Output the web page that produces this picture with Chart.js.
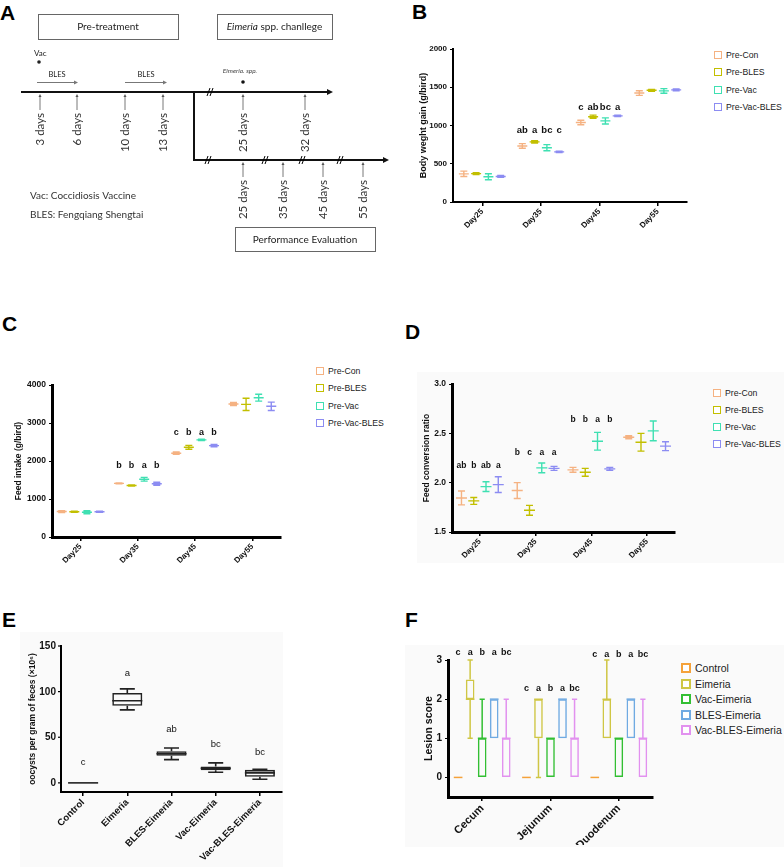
<!DOCTYPE html>
<html>
<head>
<meta charset="utf-8">
<script src="https://cdn.jsdelivr.net/npm/chart.js@4.4.0/dist/chart.umd.min.js"></script>
<style>
  body { margin: 0; background: #fff; width: 784px; height: 867px; position: relative; overflow: hidden; font-family: "Liberation Sans", Arial, sans-serif; }
  canvas { position: absolute; }
  .tag { position: absolute; font: bold 21px "Liberation Sans", Arial, sans-serif; line-height: 1; }
  .bg { position: absolute; background: #fafafa; }
  .legend { position: absolute; color: #222; }
  .legend .row { display: flex; align-items: center; }
  .legend .sq { box-sizing: border-box; margin-right: 4px; background: #fff; border-style: solid; }
  .ytick { position: absolute; font: bold 10px "Liberation Sans", Arial, sans-serif; color: #111; text-align: right; width: 30px; line-height: 12px; z-index: 5; }
</style>
</head>
<body>
<div class="bg" style="left:417px;top:372px;width:367px;height:191px"></div>
<div class="bg" style="left:20px;top:632px;width:263px;height:235px"></div>
<div class="bg" style="left:405px;top:645px;width:379px;height:202px"></div>

<div class="tag" style="left:0px;top:2px">A</div>
<div class="tag" style="left:412px;top:1px">B</div>
<div class="tag" style="left:2px;top:313px">C</div>
<div class="tag" style="left:405px;top:321px">D</div>
<div class="tag" style="left:2px;top:609px">E</div>
<div class="tag" style="left:405px;top:609px">F</div>

<canvas id="panelA" width="392" height="258" style="left:0;top:0"></canvas>
<canvas id="chartB" width="280" height="195" style="left:412px;top:40px"></canvas>
<canvas id="chartC" width="276" height="194" style="left:10px;top:376px"></canvas>
<canvas id="chartD" width="264" height="190" style="left:416px;top:375px"></canvas>
<canvas id="chartE" width="265" height="230" style="left:22px;top:637px"></canvas>
<canvas id="chartF" width="240" height="205" style="left:418px;top:640px"></canvas>

<script>
// ---- datos ----
const days = ['Day25', 'Day35', 'Day45', 'Day55'];
const preGroups = ['Pre-Con', 'Pre-BLES', 'Pre-Vac', 'Pre-Vac-BLES'];
const preColors = ['#f5b282', '#c2bf00', '#3fe0b2', '#8c8cf2'];

// B: body weight gain, mean and error per group (Day25..Day55)
const bwgMean = [[368, 733, 1039, 1424], [371, 786, 1115, 1460], [330, 710, 1060, 1452], [334, 655, 1126, 1466]];
const bwgErr = [[35, 30, 30, 30], [12, 15, 20, 12], [40, 40, 40, 30], [12, 8, 8, 12]];
const bwgLetters = [[], ['ab', 'a', 'bc', 'c'], ['c', 'ab', 'bc', 'a'], []];
const bwgLetterY = [null, 930, 1240, null];

// C: feed intake
const fiMean = [[670, 1410, 2205, 3500], [665, 1355, 2360, 3490], [650, 1520, 2555, 3665], [665, 1400, 2405, 3440]];
const fiErr = [[25, 10, 30, 40], [15, 15, 50, 160], [40, 50, 20, 90], [15, 40, 30, 110]];
const fiLetters = [[], ['b', 'b', 'a', 'b'], ['c', 'b', 'a', 'b'], []];
const fiLetterY = [null, 1870, 2760, null];

// D: feed conversion ratio
const fcrMean = [[1.845, 1.92, 2.13, 2.46], [1.815, 1.72, 2.105, 2.41], [1.96, 2.15, 2.42, 2.525], [1.98, 2.145, 2.14, 2.37]];
const fcrErr = [[0.07, 0.08, 0.025, 0.015], [0.035, 0.05, 0.04, 0.09], [0.05, 0.05, 0.09, 0.1], [0.08, 0.02, 0.015, 0.045]];
const fcrLetters = [['ab', 'b', 'ab', 'a'], ['b', 'c', 'a', 'a'], ['b', 'b', 'a', 'b'], []];
const fcrLetterY = [2.17, 2.30, 2.64, null];

// E: oocysts (box plot)
const oocystGroups = ['Control', 'Eimeria', 'BLES-Eimeria', 'Vac-Eimeria', 'Vac-BLES-Eimeria'];
const oocystMin = [0, 80, 25.5, 11.7, 4];
const oocystQ1 = [0, 84.5, 29.6, 13.9, 6.6];
const oocystMed = [0, 90, 32, 16, 11];
const oocystQ3 = [0, 98.5, 34.7, 17.9, 14.3];
const oocystMax = [0, 103, 38.3, 21.9, 15];
const oocystLetters = ['c', 'a', 'ab', 'bc', 'bc'];
const oocystLetterY = [23, 120, 59, 42, 33];
const oocystTicks = [0, 50, 100, 150];

// F: lesion score (box plot), per group across Cecum, Jejunum, Duodenum
const sites = ['Cecum', 'Jejunum', 'Duodenum'];
const lesionGroups = ['Control', 'Eimeria', 'Vac-Eimeria', 'BLES-Eimeria', 'Vac-BLES-Eimeria'];
const lesionColors = ['#f5a23a', '#cfc644', '#33bf33', '#6faae2', '#e291ef'];
const lesionMin = [[0, 0, 0], [1, 0, 1], [0, 0, 0], [1, 1, 1], [0, 0, 0]];
const lesionQ1 = [[0, 0, 0], [2, 1, 1], [0, 0, 0], [1, 1, 1], [0, 0, 0]];
const lesionMed = [[0, 0, 0], [2, 2, 2], [1, 1, 1], [2, 2, 2], [1, 1, 1]];
const lesionQ3 = [[0, 0, 0], [2.5, 2, 2], [1, 1, 1], [2, 2, 2], [1, 1, 1]];
const lesionMax = [[0, 0, 0], [3, 2, 3], [2, 1, 1], [2, 2, 2], [2, 2, 2]];
const lesionLetters = ['c', 'a', 'b', 'a', 'bc'];
const lesionLetterY = [3.18, 2.26, 3.15];

const FONT = '"Liberation Sans", Arial, sans-serif';

// ---- plugins ----
const errorBars = {
  id: 'errorBars',
  afterDatasetsDraw(chart, args, opts) {
    const ctx = chart.ctx, y = chart.scales.y;
    chart.data.datasets.forEach((ds, i) => {
      chart.getDatasetMeta(i).data.forEach((bar, j) => {
        const m = ds.mean[j], e = ds.err[j];
        const yt = y.getPixelForValue(m + e), yb = y.getPixelForValue(m - e), ym = y.getPixelForValue(m);
        const x = bar.x;
        ctx.save();
        ctx.strokeStyle = ds.borderColor;
        ctx.lineWidth = 1.4;
        ctx.beginPath();
        ctx.moveTo(x, yt); ctx.lineTo(x, yb);
        ctx.moveTo(x - opts.cap, yt); ctx.lineTo(x + opts.cap, yt);
        ctx.moveTo(x - opts.cap, yb); ctx.lineTo(x + opts.cap, yb);
        ctx.moveTo(x - opts.mean, ym); ctx.lineTo(x + opts.mean, ym);
        ctx.stroke();
        ctx.restore();
      });
    });
  }
};

const whiskers = {
  id: 'whiskers',
  afterDatasetsDraw(chart, args, opts) {
    const ctx = chart.ctx, y = chart.scales.y;
    chart.data.datasets.forEach((ds, i) => {
      chart.getDatasetMeta(i).data.forEach((bar, j) => {
        const x = bar.x, w = bar.width;
        const pMin = y.getPixelForValue(ds.lo[j]), pMax = y.getPixelForValue(ds.hi[j]);
        const pQ1 = y.getPixelForValue(ds.data[j][0]), pQ3 = y.getPixelForValue(ds.data[j][1]);
        const pMed = y.getPixelForValue(ds.med[j]);
        ctx.save();
        ctx.strokeStyle = ds.borderColor;
        ctx.lineWidth = opts.width;
        ctx.beginPath();
        ctx.moveTo(x - w / 2, pMed); ctx.lineTo(x + w / 2, pMed);
        if (pMax < pQ3) {
          ctx.moveTo(x, pQ3); ctx.lineTo(x, pMax);
          ctx.moveTo(x - w * opts.cap, pMax); ctx.lineTo(x + w * opts.cap, pMax);
        }
        if (pMin > pQ1) {
          ctx.moveTo(x, pQ1); ctx.lineTo(x, pMin);
          ctx.moveTo(x - w * opts.cap, pMin); ctx.lineTo(x + w * opts.cap, pMin);
        }
        ctx.stroke();
        ctx.restore();
      });
    });
  }
};

const letters = {
  id: 'letters',
  afterDatasetsDraw(chart, args, opts) {
    const ctx = chart.ctx, y = chart.scales.y;
    ctx.save();
    ctx.font = opts.font;
    ctx.fillStyle = '#111';
    ctx.textAlign = 'center';
    ctx.textBaseline = 'middle';
    chart.data.datasets.forEach((ds, i) => {
      chart.getDatasetMeta(i).data.forEach((bar, j) => {
        const txt = opts.text(i, j);
        const ly = opts.y[j];
        if (txt && ly != null) ctx.fillText(txt, bar.x, y.getPixelForValue(ly));
      });
    });
    ctx.restore();
  }
};

// tick marks for panel E (labels are placed as html from the same scale)
const yTickMarks = {
  id: 'yTickMarks',
  afterDraw(chart, args, opts) {
    const ctx = chart.ctx, y = chart.scales.y;
    ctx.save();
    ctx.strokeStyle = '#000';
    ctx.lineWidth = 1.2;
    oocystTicks.forEach(v => {
      const py = y.getPixelForValue(v);
      ctx.beginPath(); ctx.moveTo(y.right - 3, py); ctx.lineTo(y.right, py); ctx.stroke();
    });
    ctx.restore();
  }
};

// ---- common options ----
function axesOptions(c) {
  return {
    responsive: false,
    animation: false,
    events: [],
    layout: { padding: { top: c.padTop, right: 5 } },
    plugins: {
      legend: { display: false },
      tooltip: { enabled: false },
      errorBars: c.errorBars || {},
      whiskers: c.whiskers || {},
      letters: c.letters
    },
    scales: {
      x: {
        grid: { display: true, drawOnChartArea: false, offset: false, tickLength: 4, color: '#000', lineWidth: 1.5 },
        border: { color: '#000', width: c.axisWidth },
        ticks: { color: '#111', autoSkip: false, minRotation: 45, maxRotation: 45, padding: 1, font: { family: FONT, size: c.xFont, weight: 'bold' } },
        afterFit: axis => { axis.height = c.xHeight; }
      },
      y: {
        min: c.min, max: c.max,
        grid: { display: c.yGrid !== false, drawOnChartArea: false, tickLength: 3, color: '#000' },
        border: { color: '#000', width: c.axisWidth },
        ticks: {
          display: c.yTicks !== false,
          color: '#111', autoSkip: false, stepSize: c.step, includeBounds: c.bounds !== false,
          font: { family: FONT, size: c.yFont, weight: 'bold' }, callback: c.fmt
        },
        title: { display: true, text: c.title, color: '#111', padding: { top: c.titlePad, bottom: 0 }, font: { family: FONT, size: c.titleFont, weight: 'bold' } },
        afterFit: axis => { axis.width = c.yWidth; }
      }
    }
  };
}

function meanChart(id, means, errs, cat, c) {
  return new Chart(document.getElementById(id), {
    type: 'bar',
    data: {
      labels: days,
      datasets: preGroups.map((g, i) => ({
        label: g,
        data: means[i].map((m, j) => [m - errs[i][j], m + errs[i][j]]),
        mean: means[i],
        err: errs[i],
        backgroundColor: 'rgba(0,0,0,0)',
        borderColor: preColors[i],
        borderWidth: 0,
        categoryPercentage: cat,
        barPercentage: 1
      }))
    },
    options: axesOptions(c),
    plugins: [errorBars, letters]
  });
}

const plainNum = v => String(v);

meanChart('chartB', bwgMean, bwgErr, 0.84, {
  padTop: 9, xHeight: 33, yWidth: 41, axisWidth: 2, xFont: 8, yFont: 8,
  min: 0, max: 2000, step: 500, fmt: plainNum,
  title: 'Body weght gain (g/bird)', titleFont: 9, titlePad: 6,
  errorBars: { cap: 3.5, mean: 5 },
  letters: { font: 'bold 9.5px ' + FONT, y: bwgLetterY, text: (i, j) => bwgLetters[j][i] }
});

meanChart('chartC', fiMean, fiErr, 0.88, {
  padTop: 9, xHeight: 33, yWidth: 42, axisWidth: 3, xFont: 8, yFont: 8.5,
  min: 0, max: 4000, step: 1000, fmt: plainNum,
  title: 'Feed intake (g/bird)', titleFont: 8.5, titlePad: 4,
  errorBars: { cap: 3.5, mean: 5 },
  letters: { font: 'bold 9px ' + FONT, y: fiLetterY, text: (i, j) => fiLetters[j][i] }
});

meanChart('chartD', fcrMean, fcrErr, 0.88, {
  padTop: 9, xHeight: 33, yWidth: 36, axisWidth: 3, xFont: 8, yFont: 8.5,
  min: 1.5, max: 3.0, step: 0.5, fmt: v => v.toFixed(1),
  title: 'Feed conversion ratio', titleFont: 8.5, titlePad: 5.5,
  errorBars: { cap: 3.5, mean: 5.5 },
  letters: { font: 'bold 8.5px ' + FONT, y: fcrLetterY, text: (i, j) => fcrLetters[j][i] }
});

const chartE = new Chart(document.getElementById('chartE'), {
  type: 'bar',
  data: {
    labels: oocystGroups,
    datasets: [{
      label: 'oocysts',
      data: oocystQ1.map((q, j) => [q, oocystQ3[j]]),
      lo: oocystMin, hi: oocystMax, med: oocystMed,
      backgroundColor: 'rgba(255,255,255,0)',
      borderColor: '#222',
      borderWidth: 1.6,
      borderSkipped: false,
      categoryPercentage: 1,
      barPercentage: 0.68
    }]
  },
  options: axesOptions({
    padTop: 9, xHeight: 75, yWidth: 39, axisWidth: 2, xFont: 9.5, yFont: 10,
    min: -10, max: 150, step: 50, bounds: false, yTicks: false, yGrid: false,
    title: 'oocysts per gram of feces (×10⁶)', titleFont: 8.5, titlePad: 5.5,
    whiskers: { width: 1.6, cap: 0.25 },
    letters: { font: '9.5px ' + FONT, y: oocystLetterY, text: (i, j) => oocystLetters[j] }
  }),
  plugins: [whiskers, letters, yTickMarks]
});

// E y labels as html, positioned from the chart's own y scale
(function () {
  const cv = document.getElementById('chartE');
  const y = chartE.scales.y;
  oocystTicks.forEach(v => {
    const d = document.createElement('div');
    d.className = 'ytick';
    d.textContent = String(v);
    d.style.left = (cv.offsetLeft + y.right - 5 - 30) + 'px';
    d.style.top = (cv.offsetTop + y.getPixelForValue(v) - 6) + 'px';
    document.body.appendChild(d);
  });
})();

new Chart(document.getElementById('chartF'), {
  type: 'bar',
  data: {
    labels: sites,
    datasets: lesionGroups.map((g, i) => ({
      label: g,
      data: lesionQ1[i].map((q, j) => [q, lesionQ3[i][j]]),
      lo: lesionMin[i], hi: lesionMax[i], med: lesionMed[i],
      backgroundColor: 'rgba(0,0,0,0)',
      borderColor: lesionColors[i],
      borderWidth: 1.5,
      borderSkipped: false,
      categoryPercentage: 0.88,
      barPercentage: 0.72
    }))
  },
  options: axesOptions({
    padTop: 20, xHeight: 48, yWidth: 30, axisWidth: 3, xFont: 11, yFont: 10,
    min: -0.5, max: 3, step: 1, bounds: false,
    title: 'Lesion score', titleFont: 10.5, titlePad: 5,
    whiskers: { width: 1.5, cap: 0.3 },
    letters: { font: 'bold 9px ' + FONT, y: lesionLetterY, text: (i, j) => lesionLetters[i] }
  }),
  plugins: [whiskers, letters]
});

// ---- leyendas ----
function legend(names, colors, left, firstCenter, step, sq, bw, font) {
  const box = document.createElement('div');
  box.className = 'legend';
  box.style.left = left + 'px';
  box.style.top = (firstCenter - step / 2) + 'px';
  box.style.font = font;
  names.forEach((n, i) => {
    const row = document.createElement('div');
    row.className = 'row';
    row.style.height = step + 'px';
    const s = document.createElement('span');
    s.className = 'sq';
    s.style.width = sq + 'px';
    s.style.height = sq + 'px';
    s.style.borderWidth = bw + 'px';
    s.style.borderColor = colors[i];
    row.appendChild(s);
    row.appendChild(document.createTextNode(n));
    box.appendChild(row);
  });
  document.body.appendChild(box);
}
legend(preGroups, preColors, 714, 55, 17.4, 8, 1.5, '8.7px ' + FONT);
legend(preGroups, preColors, 316, 371, 17.4, 8, 1.5, '8.7px ' + FONT);
legend(preGroups, preColors, 713, 393, 17, 8, 1.5, '8.7px ' + FONT);
legend(lesionGroups, lesionColors, 681, 668, 15.6, 10, 2, '10.5px ' + FONT);

// ---- panel A: esquema ----
const a = document.getElementById('panelA').getContext('2d');
const preDays = ['3 days', '6 days', '10 days', '13 days', '25 days', '32 days'];
const preX = [40, 77, 125, 163, 243, 305];
const evalDays = ['25 days', '35 days', '45 days', '55 days'];
const evalX = [243, 283, 323, 363];
const AFONT = 'Lato, "Noto Sans", sans-serif';

function arrowRight(x, y, s) {
  a.beginPath(); a.moveTo(x, y); a.lineTo(x - s, y - s / 2); a.lineTo(x - s, y + s / 2); a.closePath(); a.fill();
}
function arrowUp(x, y, s) {
  a.beginPath(); a.moveTo(x, y); a.lineTo(x - s / 2, y + s); a.lineTo(x + s / 2, y + s); a.closePath(); a.fill();
}
function brk(x, y) {
  a.save(); a.lineWidth = 1; a.strokeStyle = '#000';
  a.beginPath();
  a.moveTo(x - 3, y + 4); a.lineTo(x, y - 4);
  a.moveTo(x, y + 4); a.lineTo(x + 3, y - 4);
  a.stroke(); a.restore();
}
function boxText(x, y, w, h, parts) {
  a.save();
  a.strokeStyle = '#666'; a.lineWidth = 1;
  a.strokeRect(x + 0.5, y + 0.5, w, h);
  a.fillStyle = '#222'; a.textBaseline = 'middle';
  let total = 0;
  parts.forEach(p => { a.font = p[1]; total += a.measureText(p[0]).width; });
  let cx = x + w / 2 - total / 2;
  parts.forEach(p => { a.font = p[1]; a.fillText(p[0], cx, y + h / 2 + 0.5); cx += a.measureText(p[0]).width; });
  a.restore();
}

boxText(38, 14, 140, 25, [['Pre-treatment', '10px ' + AFONT]]);
boxText(217, 14, 115, 25, [['Eimeria', 'italic 10px ' + AFONT], [' spp. chanllege', '10px ' + AFONT]]);
boxText(235, 227, 140, 24, [['Performance Evaluation', '10px ' + AFONT]]);

a.fillStyle = '#222';
a.font = '8px ' + AFONT;
a.textBaseline = 'middle';
a.fillText('Vac', 34, 53);
a.beginPath(); a.arc(39, 62, 1.8, 0, Math.PI * 2); a.fill();

// BLES arrows
a.strokeStyle = '#777'; a.fillStyle = '#777'; a.lineWidth = 1;
[[37, 78], [125, 167]].forEach(r => {
  a.beginPath(); a.moveTo(r[0], 82.5); a.lineTo(r[1] - 3, 82.5); a.stroke();
  arrowRight(r[1], 82.5, 4);
});
a.fillStyle = '#222'; a.font = '7.5px ' + AFONT; a.textAlign = 'center';
a.fillText('BLES', 57, 75);
a.fillText('BLES', 146, 75);
a.font = 'italic 6.5px ' + AFONT; a.fillStyle = '#444';
a.fillText('Eimeria. spp.', 240, 71);
a.fillStyle = '#111';
a.beginPath(); a.arc(243, 82, 1.8, 0, Math.PI * 2); a.fill();

// main timelines
a.strokeStyle = '#111'; a.fillStyle = '#111'; a.lineWidth = 2;
a.beginPath(); a.moveTo(21, 92); a.lineTo(328, 92); a.stroke();
arrowRight(333, 92, 6);
a.beginPath(); a.moveTo(194, 92); a.lineTo(194, 160); a.lineTo(384, 160); a.stroke();
arrowRight(389, 160, 6);
brk(210, 92);
[208, 265, 302, 340].forEach(x => brk(x, 160));

// ticks and labels
function dayTicks(xs, labels, y0, y1, ty) {
  a.strokeStyle = '#555'; a.fillStyle = '#555'; a.lineWidth = 0.8;
  xs.forEach((x, i) => {
    a.beginPath(); a.moveTo(x, y1); a.lineTo(x, y0 + 2); a.stroke();
    arrowUp(x, y0, 3);
    a.save();
    a.fillStyle = '#333';
    a.font = '11.5px ' + AFONT;
    a.translate(x, ty);
    a.rotate(-Math.PI / 2);
    a.textAlign = 'right';
    a.textBaseline = 'middle';
    a.fillText(labels[i], 0, 0);
    a.restore();
  });
}
dayTicks(preX, preDays, 94, 110, 113);
dayTicks(evalX, evalDays, 162, 177, 180);

a.fillStyle = '#333'; a.textAlign = 'left'; a.font = '10px ' + AFONT;
a.fillText('Vac: Coccidiosis Vaccine', 30, 196);
a.fillText('BLES: Fengqiang Shengtai', 30, 215);
</script>
</body>
</html>
